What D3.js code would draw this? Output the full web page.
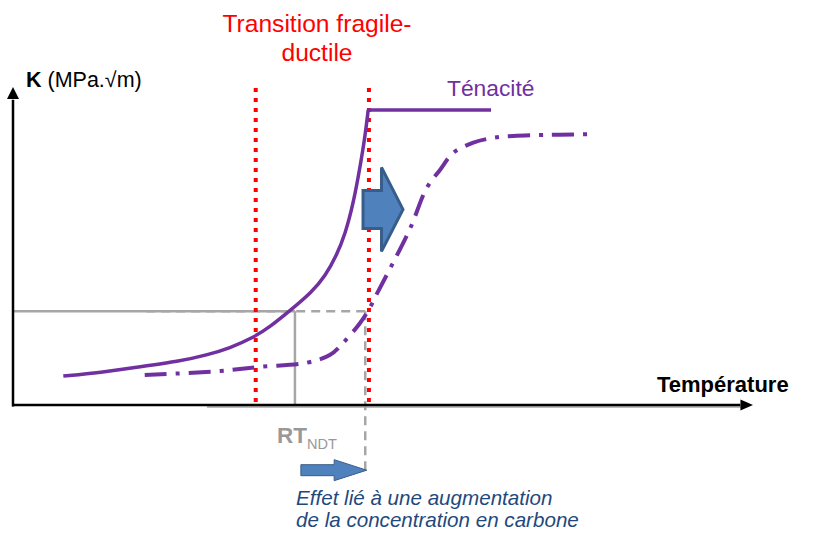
<!DOCTYPE html>
<html><head><meta charset="utf-8">
<script src="https://cdn.jsdelivr.net/npm/d3@7"></script>
<style>body{margin:0;background:#fff}svg{display:block;font-family:"Liberation Sans",Arial,sans-serif}</style>
</head><body><svg id="c" width="820" height="548"></svg>
<script>
// ---- data (arbitrary units: temperature 0..100, K 0..100) ----
const tenaciteTemp = [6.8, 11.8, 17.2, 22.6, 26.2, 29.3, 32.4, 34.7, 37.4, 40.4, 42.2, 43.7, 44.9, 46.0, 46.9, 47.6, 48.0];
const tenaciteK    = [9.1, 10.2, 12.0, 13.8, 15.7, 17.9, 21.1, 24.5, 29.6, 35.5, 40.6, 46.9, 53.8, 63.5, 74.8, 84.9, 92.8];
const plateauTemp  = [48.0, 64.6];
const plateauK     = [92.8, 92.8];
const shiftedTemp  = [17.8, 28.0, 33.4, 39.7, 42.8, 44.6, 46.9, 48.2, 49.2, 51.0, 53.7, 55.9, 57.7, 59.5, 62.2, 64.9, 67.6, 71.2, 73.9, 78.2];
const shiftedK     = [9.4, 10.7, 12.0, 13.3, 15.7, 19.5, 25.8, 30.5, 35.1, 43.1, 55.7, 68.2, 73.9, 79.3, 82.5, 84.0, 84.6, 84.9, 85.0, 85.2];
const transitionTemps = [32.8, 48.1];
const refK = 29.5;
const rtNdtTemp = 38.1;
const rtShiftTemp = 47.6;
const labels = {
  yAxis: ["K", " (MPa.\u221Am)"],
  xAxis: "Température",
  transition: ["Transition fragile-", "ductile"],
  curve: "Ténacité",
  rt: ["RT", "NDT"],
  note: ["Effet lié à une augmentation", "de la concentration en carbone"]
};

const svg = d3.select("#c");
svg.append("rect").attr("width", 820).attr("height", 548).attr("fill", "#fff");
const x = d3.scaleLinear().domain([0, 100]).range([13, 753]);
const y = d3.scaleLinear().domain([0, 100]).range([405, 87]);

const purple = "#7030a0", gray = "#a6a6a6", red = "#ff0000";

// faint gray baseline under axis
svg.append("line").attr("x1", x(26.2)).attr("x2", x(99)).attr("y1", y(0) + 2).attr("y2", y(0) + 2)
  .attr("stroke", gray).attr("stroke-width", 1.5);

// gray reference lines
svg.append("line").attr("x1", x(0)).attr("x2", x(rtNdtTemp)).attr("y1", y(refK)).attr("y2", y(refK))
  .attr("stroke", gray).attr("stroke-width", 2.5);
svg.append("line").attr("x1", x(18)).attr("x2", x(transitionTemps[1])).attr("y1", y(refK)).attr("y2", y(refK))
  .attr("stroke", gray).attr("stroke-width", 2.5).attr("stroke-dasharray", "9,6");
svg.append("line").attr("x1", x(rtNdtTemp)).attr("x2", x(rtNdtTemp)).attr("y1", y(refK)).attr("y2", y(0))
  .attr("stroke", gray).attr("stroke-width", 2.5);
svg.append("line").attr("x1", x(rtShiftTemp)).attr("x2", x(rtShiftTemp)).attr("y1", y(refK)).attr("y2", y(-22))
  .attr("stroke", gray).attr("stroke-width", 2.5).attr("stroke-dasharray", "9,6");

// axes
svg.append("line").attr("x1", x(0)).attr("x2", x(0)).attr("y1", y(0) + 1.5).attr("y2", y(96))
  .attr("stroke", "#000").attr("stroke-width", 2.5);
svg.append("path").attr("d", `M${x(0)},${y(100)} L${x(0) - 6},${y(96.2)} L${x(0) + 6},${y(96.2)} Z`).attr("fill", "#000");
svg.append("line").attr("x1", x(0) - 1).attr("x2", x(98.3)).attr("y1", y(0)).attr("y2", y(0))
  .attr("stroke", "#000").attr("stroke-width", 2.5);
svg.append("path").attr("d", `M${x(100)},${y(0)} L${x(98.3)},${y(0) - 5.5} L${x(98.3)},${y(0) + 5.5} Z`).attr("fill", "#000");

// red transition lines
svg.selectAll(".tr").data(transitionTemps).enter().append("line")
  .attr("x1", d => x(d)).attr("x2", d => x(d)).attr("y1", y(99.7)).attr("y2", y(0))
  .attr("stroke", red).attr("stroke-width", 4).attr("stroke-dasharray", "4,6");

// curves
const line = d3.line().x(d => x(d[0])).y(d => y(d[1])).curve(d3.curveCatmullRom.alpha(0.5));
const smooth = d3.line().x(d => x(d[0])).y(d => y(d[1])).curve(d3.curveBasis);
svg.append("path").datum(d3.zip(shiftedTemp, shiftedK)).attr("d", line)
  .attr("fill", "none").attr("stroke", purple).attr("stroke-width", 4)
  .attr("stroke-dasharray", "22,9,4,9");
svg.append("path").datum(d3.zip(tenaciteTemp, tenaciteK)).attr("d", smooth)
  .attr("fill", "none").attr("stroke", purple).attr("stroke-width", 3.5);
svg.append("path").datum(d3.zip(plateauTemp, plateauK)).attr("d", d3.line().x(d => x(d[0])).y(d => y(d[1])))
  .attr("fill", "none").attr("stroke", purple).attr("stroke-width", 3.5);

// blue arrows
function arrow(x0, xh, x1, yc, bh, hh) {
  return `M${x0},${yc - bh} L${xh},${yc - bh} L${xh},${yc - hh} L${x1},${yc} L${xh},${yc + hh} L${xh},${yc + bh} L${x0},${yc + bh} Z`;
}
const bigY = y(61.5);
svg.append("path").attr("d", arrow(x(47.3), x(49.8), x(52.7), bigY, 19, 42))
  .attr("fill", "#4f81bd").attr("stroke", "#385d8a").attr("stroke-width", 3).attr("stroke-linejoin", "miter");
const smY = y(-20.5);
svg.append("path").attr("d", arrow(x(38.9), x(43.4), x(47.8), smY, 5.5, 10.5))
  .attr("fill", "#4f81bd").attr("stroke", "#385d8a").attr("stroke-width", 1);

// texts
svg.append("text").attr("x", 317).attr("y", 32).attr("text-anchor", "middle").attr("font-size", 24.6).attr("fill", red).text(labels.transition[0]);
svg.append("text").attr("x", 317).attr("y", 61).attr("text-anchor", "middle").attr("font-size", 24.6).attr("fill", red).text(labels.transition[1]);
svg.append("text").attr("x", 447).attr("y", 96).attr("font-size", 22.8).attr("fill", purple).text(labels.curve);
const kt = svg.append("text").attr("x", 26).attr("y", 87).attr("font-size", 21.5).attr("fill", "#000");
kt.append("tspan").attr("font-weight", "bold").text(labels.yAxis[0]);
kt.append("tspan").text(labels.yAxis[1]);
svg.append("text").attr("x", 657).attr("y", 392).attr("font-size", 22).attr("font-weight", "bold").attr("fill", "#000").text(labels.xAxis);
const rt = svg.append("text").attr("x", 277).attr("y", 443).attr("fill", "#999").attr("font-weight", "bold").attr("font-size", 22.5);
rt.append("tspan").text(labels.rt[0]);
rt.append("tspan").attr("font-size", 14.5).attr("font-weight", "normal").attr("dy", 6).text(labels.rt[1]);
svg.append("text").attr("x", 296).attr("y", 505).attr("font-size", 20.6).attr("font-style", "italic").attr("fill", "#1f497d").text(labels.note[0]);
svg.append("text").attr("x", 296).attr("y", 527).attr("font-size", 20.6).attr("font-style", "italic").attr("fill", "#1f497d").text(labels.note[1]);
</script></body></html>
